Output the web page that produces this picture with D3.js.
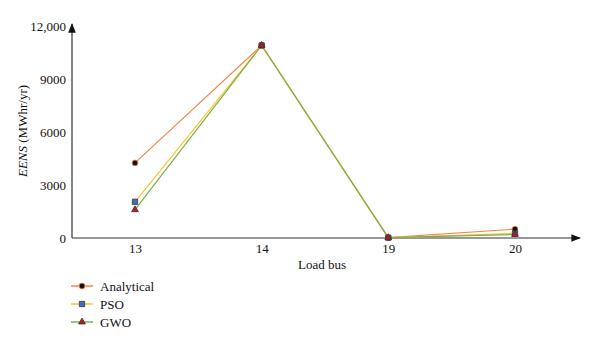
<!DOCTYPE html>
<html><head><meta charset="utf-8">
<script src="https://cdn.jsdelivr.net/npm/d3@7"></script>
<style>body{margin:0;background:#fff}svg{display:block}text{font-family:"Liberation Serif","Times New Roman",serif;fill:#111}</style>
</head><body>
<svg id="c" width="600" height="349"></svg>
<script>
const categories = ["13","14","19","20"];
const analytical = [4250, 10900, 20, 500];
const pso = [2050, 10900, 20, 260];
const gwo = [1600, 10900, 20, 200];
const yTicks = [0, 3000, 6000, 9000, 12000];
const yTickLabels = ["0","3000","6000","9000","12,000"];
const seriesNames = ["Analytical","PSO","GWO"];

const svg = d3.select("#c");
const x = d3.scalePoint().domain(categories).range([135, 515]);
const y = d3.scaleLinear().domain([0, 12000]).range([238, 26]);
const x0 = 72, xEnd = 580;

const defs = svg.append("defs");
defs.append("marker").attr("id","arr").attr("viewBox","0 0 10 10").attr("refX",9).attr("refY",5)
  .attr("markerWidth",8).attr("markerHeight",8).attr("orient","auto-start-reverse")
  .append("path").attr("d","M0,1L10,5L0,9Z").attr("fill","#111");

svg.append("line").attr("x1",x0).attr("y1",y(0)).attr("x2",xEnd).attr("y2",y(0))
  .attr("stroke","#333").attr("stroke-width",1.2).attr("marker-end","url(#arr)");
svg.append("line").attr("x1",x0).attr("y1",y(0)).attr("x2",x0).attr("y2",y(12000)-2)
  .attr("stroke","#333").attr("stroke-width",1.2).attr("marker-end","url(#arr)");

const yAxis = d3.axisLeft(y).tickValues(yTicks).tickFormat((d,i)=>yTickLabels[i]).tickSize(0).tickPadding(4);
const gy = svg.append("g").attr("transform",`translate(${x0-2},0)`).call(yAxis);
gy.select(".domain").remove();
gy.selectAll("text").attr("font-size",13).attr("fill","#111").style("font-family","Liberation Serif");

const xAxis = d3.axisBottom(x).tickSize(0).tickPadding(6);
const gx = svg.append("g").attr("transform",`translate(0,${y(0)})`).call(xAxis);
gx.select(".domain").remove();
gx.selectAll("text").attr("font-size",13).attr("fill","#111").style("font-family","Liberation Serif");

svg.append("text").attr("x",322).attr("y",269).attr("text-anchor","middle").attr("font-size",13).text("Load bus");
const yl = svg.append("text").attr("transform","translate(27,131) rotate(-90)").attr("text-anchor","middle").attr("font-size",13);
yl.append("tspan").attr("font-style","italic").text("EENS");
yl.append("tspan").text(" (MWhr/yr)");

const series = [
  {name: seriesNames[0], data: analytical, color: "#f4874b", shape: "circle", fill: "#111", stroke: "#f4874b"},
  {name: seriesNames[1], data: pso, color: "#ffc42e", shape: "square", fill: "#3f6fc0", stroke: "#333"},
  {name: seriesNames[2], data: gwo, color: "#7ab04e", shape: "triangle", fill: "#c0161c", stroke: "#333"}
];
const symType = {circle: d3.symbolCircle, square: d3.symbolSquare, triangle: d3.symbolTriangle};
const symSize = {circle: 26, square: 28, triangle: 20};

const line = d3.line().x((d,i)=>x(categories[i])).y(d=>y(d));
series.forEach(s=>{
  svg.append("path").attr("d", line(s.data)).attr("fill","none").attr("stroke", s.color).attr("stroke-width",1.2);
});
series.forEach(s=>{
  svg.selectAll(null).data(s.data).enter().append("path")
    .attr("transform",(d,i)=>`translate(${x(categories[i])},${y(d)})`)
    .attr("d", d3.symbol().type(symType[s.shape]).size(symSize[s.shape]))
    .attr("fill", s.fill).attr("stroke", s.stroke).attr("stroke-width",0.8);
});

series.forEach((s,i)=>{
  const ly = 286 + i*18;
  svg.append("line").attr("x1",71).attr("x2",93).attr("y1",ly).attr("y2",ly).attr("stroke",s.color).attr("stroke-width",1.5);
  svg.append("path").attr("transform",`translate(82,${ly})`)
    .attr("d", d3.symbol().type(symType[s.shape]).size(symSize[s.shape]))
    .attr("fill", s.fill).attr("stroke", s.stroke).attr("stroke-width",0.8);
  svg.append("text").attr("x",100).attr("y",ly+4.5).attr("font-size",13).text(s.name);
});
</script>
</body></html>
